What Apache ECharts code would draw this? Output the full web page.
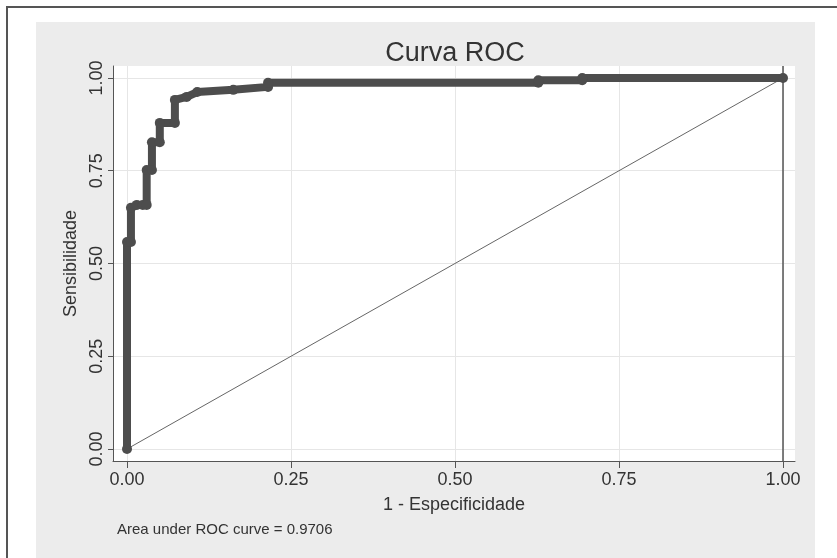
<!DOCTYPE html>
<html>
<head>
<meta charset="utf-8">
<title>Curva ROC</title>
<script src="https://cdn.jsdelivr.net/npm/echarts@6/dist/echarts.min.js"></script>
<style>
  html, body { margin: 0; padding: 0; background: #ffffff; }
  .roc-chart { width: 837px; height: 558px; }
</style>
</head>
<body>
<div id="rocChart" class="roc-chart"></div>
<script>
// ROC curve points (1 - specificity, sensitivity)
var fpr = [0, 0, 0.006, 0.006, 0.015, 0.024, 0.030, 0.030, 0.038, 0.038, 0.050, 0.050, 0.073, 0.073, 0.091, 0.107, 0.162, 0.215, 0.215, 0.627, 0.627, 0.694, 0.694, 1.0];
var tpr = [0, 0.558, 0.558, 0.650, 0.658, 0.658, 0.658, 0.752, 0.752, 0.827, 0.827, 0.879, 0.879, 0.941, 0.949, 0.962, 0.968, 0.976, 0.987, 0.987, 0.994, 0.994, 1.0, 1.0];
// reference diagonal
var refX = [0, 1];
var refY = [0, 1];
// ticks
var tickValues = [0, 0.25, 0.5, 0.75, 1];
var tickLabels = ["0.00", "0.25", "0.50", "0.75", "1.00"];
var titleText = "Curva ROC";
var xName = "1 - Especificidade";
var yName = "Sensibilidade";
var aucText = "Area under ROC curve = 0.9706";

var initRocChart = function () {
  var myChart = echarts.init(document.getElementById("rocChart"));
  var font = "'Liberation Sans', Arial, Helvetica, sans-serif";
  var rocData = fpr.map(function (x, i) { return [x, tpr[i]]; });
  var refData = refX.map(function (x, i) { return [x, refY[i]]; });
  var fmt = function (v) {
    for (var i = 0; i < tickValues.length; i++) {
      if (Math.abs(tickValues[i] - v) < 1e-9) return tickLabels[i];
    }
    return "";
  };

  var chartOptions = {
    backgroundColor: "#ffffff",
    animation: false,
    graphic: [
      {
        type: "polyline",
        z: -100,
        shape: { points: [[7, 558], [7, 7], [837, 7]] },
        style: { stroke: "#555555", lineWidth: 2, fill: null },
      },
      {
        type: "rect",
        z: -90,
        shape: { x: 36, y: 22, width: 779, height: 536 },
        style: { fill: "#ececec" },
      },
      {
        type: "text",
        x: 455,
        y: 67,
        style: {
          text: titleText,
          fill: "#333333",
          font: "27px " + font,
          textAlign: "center",
          textVerticalAlign: "bottom",
        },
      },
      {
        type: "text",
        x: 117,
        y: 530,
        style: {
          text: aucText,
          fill: "#333333",
          font: "15px " + font,
          textAlign: "left",
          textVerticalAlign: "middle",
        },
      },
    ],
    grid: {
      left: 113,
      right: 42,
      top: 66,
      bottom: 97,
      show: true,
      backgroundColor: "#ffffff",
      borderWidth: 0,
    },
    xAxis: {
      type: "value",
      min: -0.02134,
      max: 1.01829,
      name: xName,
      nameLocation: "middle",
      nameGap: 35,
      nameTextStyle: { color: "#333333", fontSize: 18, fontFamily: font },
      axisLine: { show: true, onZero: false, lineStyle: { color: "#555555", width: 1 } },
      axisTick: { show: true, length: 7, customValues: tickValues, lineStyle: { color: "#555555" } },
      axisLabel: {
        show: true,
        customValues: tickValues,
        margin: 10,
        fontSize: 18,
        fontFamily: font,
        color: "#333333",
        formatter: fmt,
      },
      splitLine: { show: true, lineStyle: { color: "#e6e6e6", width: 1 } },
    },
    yAxis: {
      type: "value",
      min: -0.0323,
      max: 1.0323,
      name: yName,
      nameLocation: "middle",
      nameGap: 27,
      nameTextStyle: { color: "#333333", fontSize: 18, fontFamily: font },
      axisLine: { show: true, onZero: false, lineStyle: { color: "#555555", width: 1 } },
      axisTick: { show: true, length: 5, customValues: tickValues, lineStyle: { color: "#555555" } },
      axisLabel: {
        show: true,
        customValues: tickValues,
        rotate: 90,
        margin: 7,
        fontSize: 18,
        fontFamily: font,
        color: "#333333",
        formatter: fmt,
      },
      splitLine: { show: true, lineStyle: { color: "#e6e6e6", width: 1 } },
    },
    series: [
      {
        name: "referencia",
        type: "line",
        data: refData,
        showSymbol: false,
        symbol: "none",
        lineStyle: { color: "#666666", width: 1 },
        z: 2,
        markLine: {
          silent: true,
          symbol: "none",
          label: { show: false },
          lineStyle: { color: "#555555", width: 1.5, type: "solid" },
          data: [{ xAxis: 1 }],
        },
      },
      {
        name: "ROC",
        type: "line",
        data: rocData,
        symbol: "circle",
        symbolSize: 10,
        itemStyle: { color: "#4d4d4d" },
        lineStyle: { color: "#4d4d4d", width: 8, join: "round" },
        z: 5,
      },
    ],
  };
  // draw
  myChart.setOption(chartOptions);
};

initRocChart();
</script>
</body>
</html>
